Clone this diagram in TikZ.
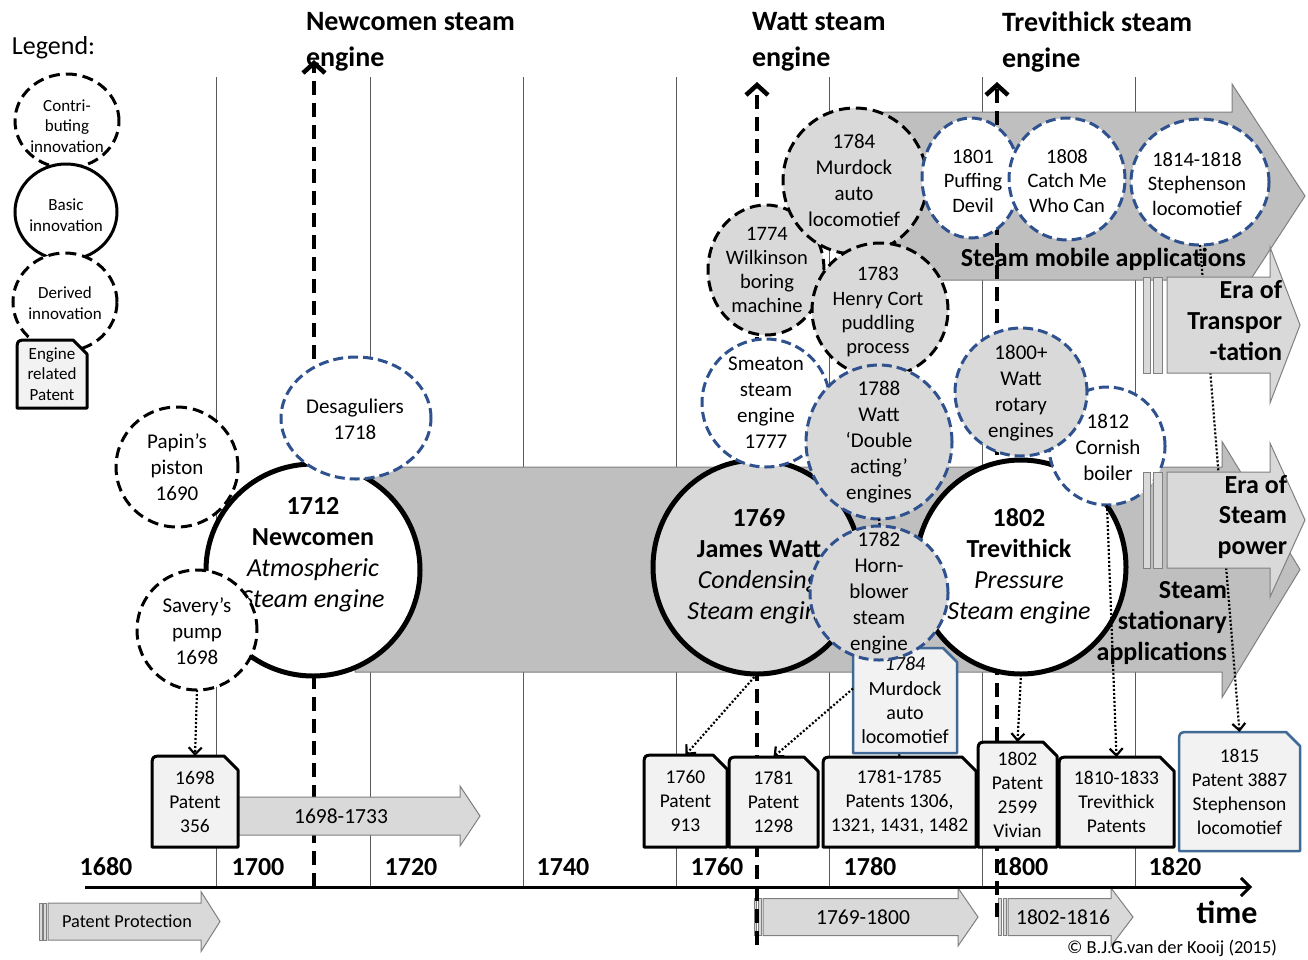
\documentclass[tikz,border=0pt]{standalone}
\usepackage{fontspec}
\setmainfont{Carlito}
\usetikzlibrary{arrows.meta,shapes.geometric}
\definecolor{dkgrey}{RGB}{191,191,191}
\definecolor{ltgrey}{RGB}{217,217,217}
\definecolor{boxfill}{RGB}{242,242,242}
\definecolor{dashblue}{RGB}{47,82,143}
\definecolor{boxblue}{RGB}{65,105,150}
\definecolor{gridc}{RGB}{90,90,90}
\definecolor{outl}{RGB}{128,128,128}
\newcommand\myfs[2]{\fontsize{#1}{#2}\selectfont}
% #1 style, #2 left x, #3 head x, #4 tip x, #5 centre y, #6 body half height, #7 head half height
\newcommand\arrowshape[7]{\draw[#1] (#2,#5-#6) -- (#3,#5-#6) -- (#3,#5-#7) -- (#4,#5) -- (#3,#5+#7) -- (#3,#5+#6) -- (#2,#5+#6) -- cycle;}
% #1 name, #2 L, #3 T, #4 R, #5 B, #6 shape style, #7 node style, #8 text
\newcommand\patent[8]{%
  \draw[pshape,#6] (#2,#5) -- (#2,#3+12) .. controls (#2,#3) .. (#2+12,#3) -- (#4-14,#3) -- (#4,#3+14) -- (#4,#5) -- cycle;
  \node[ptext,#7,minimum width={#4-#2},minimum height={#5-#3}] (#1) at ({(#2+#4)/2},{(#3+#5)/2}) {#8};}
\begin{document}
\begin{tikzpicture}[x=1pt,y=-1pt,
  every node/.style={inner sep=0pt,outer sep=0pt},
  gridline/.style={draw=gridc,line width=1pt},
  bigarrow/.style={fill=dkgrey,draw=outl,line width=1pt},
  smallarrow/.style={fill=ltgrey,draw=outl,line width=1pt},
  barstyle/.style={fill=ltgrey,draw=outl,line width=1pt},
  axisline/.style={line width=3pt,-{Straight Barb[length=9pt,width=18pt]}},
  engline/.style={line width=4.5pt,dash pattern=on 14pt off 8pt,-{Straight Barb[length=10pt,width=22pt]}},
  dotarrow/.style={line width=2.2pt,dash pattern=on 2pt off 2pt,-{Straight Barb[length=7pt,width=13pt]}},
  dotline/.style={line width=2.2pt,dash pattern=on 2pt off 2pt},
  cdash/.style={ellipse,draw=black,line width=3pt,dash pattern=on 11pt off 6pt},
  bdash/.style={ellipse,draw=dashblue,line width=3pt,dash pattern=on 10pt off 5pt},
  basic/.style={ellipse,draw=black,line width=5pt},
  ctext/.style={align=center,font=\myfs{21}{26}},
  ctexts/.style={align=center,font=\myfs{20.5}{24.3}},
  bigtext/.style={align=center,font=\myfs{26}{31}},
  ptext/.style={align=center,font=\myfs{19.5}{24}},
  pshape/.style={fill=boxfill,line join=round},
  legtext/.style={align=center,font=\myfs{17}{20.5}},
  arrowlabel/.style={align=right,font=\myfs{26}{31}\bfseries},
  yearlab/.style={font=\myfs{26}{30}\bfseries},
  periodlab/.style={font=\myfs{21.5}{26}},
  titlelab/.style={align=left,anchor=west,font=\myfs{28}{36}\bfseries}]
\useasboundingbox (0,0) rectangle (1308,959);
\fill[white] (0,0) rectangle (1308,959);
% grid
\foreach \gx in {216,370,523,676,829,982,1135} {\draw[gridline] (\gx,77) -- (\gx,887);}
% big era arrows
\arrowshape{bigarrow}{355}{1222}{1300}{569.5}{102.5}{128}
\arrowshape{bigarrow}{850}{1232}{1305}{196}{84}{112}
% patent period arrows
\draw[barstyle] (39,903) rectangle (42,940);
\draw[barstyle] (43.5,903) rectangle (46.5,940);
\arrowshape{smallarrow}{48}{201}{220}{921.5}{18.5}{30}
\node[font=\myfs{18.3}{22}] (pp) at (127,921.5) {Patent Protection};
\draw[barstyle] (754,898.5) rectangle (756,935.5);
\draw[barstyle] (758,898.5) rectangle (761,935.5);
\arrowshape{smallarrow}{763}{958}{978}{917}{18.5}{29}
\node[periodlab] (per1769) at (863,917) {1769-1800};
\draw[barstyle] (998,898.5) rectangle (1001,935.5);
\draw[barstyle] (1003,898.5) rectangle (1006,935.5);
\arrowshape{smallarrow}{1008}{1111}{1133}{917}{18.5}{29}
\node[periodlab] (per1802) at (1063,917) {1802-1816};
% time axis
\coordinate (ax0) at (85,887);
\coordinate (ax1) at (1252,887);
\draw[axisline] (ax0) -- (ax1);
\foreach \yr/\xx in {1680/106,1700/258,1720/411,1740/563,1760/717,1780/870,1800/1022,1820/1175}
  {\node[yearlab] (yr\yr) at (\xx,867) {\yr};}
\node[font=\myfs{32}{36}\bfseries] (timelab) at (1227,912) {time};
% engine lines
\coordinate (nbot) at (314,887); \coordinate (ntop) at (314,60);
\coordinate (wbot) at (757,945); \coordinate (wtop) at (757,82);
\coordinate (tbot) at (997,917); \coordinate (ttop) at (997,82);
\draw[engline] (nbot) -- (ntop);
\draw[engline] (wbot) -- (wtop);
\draw[engline] (tbot) -- (ttop);
% Savery patent period (lies over the Newcomen line)
\arrowshape{smallarrow}{238}{460}{480}{816}{19}{30}
\node[periodlab] (per1698) at (341,816) {1698-1733};
% patents
\patent{p1698}{152}{756}{238}{847}{draw=black,line width=3pt}{}{1698\\Patent\\356}
\patent{p1760}{644}{755}{727}{847}{draw=black,line width=3pt}{}{1760\\Patent\\913}
\patent{p1781}{729}{757}{818}{847}{draw=black,line width=3pt}{}{1781\\Patent\\1298}
\patent{p1781b}{823}{757}{976}{847}{draw=black,line width=3pt}{}{1781-1785\\Patents 1306,\\1321, 1431, 1482}
\patent{p1802}{978}{742}{1057}{847}{draw=black,line width=3pt}{}{1802\\Patent\\2599\\Vivian}
\patent{p1810}{1059}{757}{1174}{847}{draw=black,line width=3pt}{}{1810-1833\\Trevithick\\Patents}
\patent{p1815}{1179}{732}{1300}{851}{draw=boxblue,line width=2.5pt}{}{1815\\Patent 3887\\Stephenson\\locomotief}
% Newcomen group
\node[basic,fill=white,minimum width=214,minimum height=212] (newcomen) at (313,570) {};
\node[bigtext] (newcomen-t) at (313,555) {\textbf{1712}\\\textbf{Newcomen}\\\textit{Atmospheric}\\\textit{Steam engine}};
\node[cdash,fill=white,minimum width=122,minimum height=120] (papin) at (177,467) {};
\node[ctext] (papin-t) at (177,467) {Papin’s\\piston\\1690};
\node[cdash,fill=white,minimum width=120,minimum height=120] (savery) at (197,630) {};
\node[ctext] (savery-t) at (197,631) {Savery’s\\pump\\1698};
\node[bdash,fill=white,minimum width=150,minimum height=122] (desag) at (356,418) {};
\node[ctext] (desag-t) at (355,419) {Desaguliers\\1718};
% Watt and Trevithick
\node[basic,fill=ltgrey,minimum width=208,minimum height=214] (watt) at (757,567) {};
\node[bigtext] (watt-t) at (759,566) {\textbf{1769}\\\textbf{James Watt}\\\textit{Condensing}\\\textit{Steam engine}};
\node[basic,fill=white,minimum width=210,minimum height=214] (trev) at (1021,567) {};
\node[bigtext] (trev-t) at (1019,566) {\textbf{1802}\\\textbf{Trevithick}\\\textit{Pressure}\\\textit{Steam engine}};
% upper circles
\node[bdash,fill=white,minimum width=128,minimum height=128] (smeaton) at (766,403) {};
\node[ctext] (smeaton-t) at (766,403) {Smeaton\\steam\\engine\\1777};
\node[cdash,fill=ltgrey,minimum width=116,minimum height=130] (wilk) at (766,270) {};
\node[ctexts] (wilk-t) at (767,270) {1774\\Wilkinson\\boring\\machine};
\node[cdash,fill=ltgrey,minimum width=144,minimum height=146] (murdock) at (855,181) {};
\node[ctext] (murdock-t) at (854,180) {1784\\Murdock\\auto\\locomotief};
\node[cdash,fill=ltgrey,minimum width=136,minimum height=134] (cort) at (880,310) {};
\node[ctexts] (cort-t) at (878,312) {1783\\Henry Cort\\puddling\\process};
\node[bdash,fill=ltgrey,minimum width=146,minimum height=154] (d1788) at (879,442) {};
\node[ctext] (d1788-t) at (879,442) {1788\\Watt\\‘Double\\acting’\\engines};
\node[bdash,fill=white,minimum width=116,minimum height=118] (cornish) at (1107,446) {};
\node[ctext] (cornish-t) at (1108,447) {1812\\Cornish\\boiler};
\node[bdash,fill=ltgrey,minimum width=132,minimum height=128] (r1800) at (1021,392) {};
\node[ctext] (r1800-t) at (1021,393) {1800+\\Watt\\rotary\\engines};
\node[bdash,fill=white,minimum width=98,minimum height=120] (puff) at (971,178) {};
\node[ctexts] (puff-t) at (973,181) {1801\\Puffing\\Devil};
\node[bdash,fill=white,minimum width=116,minimum height=122] (catch) at (1067,179) {};
\node[ctexts] (catch-t) at (1067,181) {1808\\Catch Me\\Who Can};
\node[bdash,fill=white,minimum width=138,minimum height=126] (steph) at (1200,182) {};
\node[ctexts] (steph-t) at (1197,184) {1814-1818\\Stephenson\\locomotief};
% hidden link 1788 -> patents
\draw[dotline] (d1788.south) -- (p1781b.north);
% Murdock patent box and Hornblower
\patent{mbox}{853}{648}{957}{753}{draw=boxblue,line width=2.5pt}{font=\myfs{20}{24.3}}{\textit{1784}\\Murdock\\auto\\locomotief}
\node[bdash,fill=ltgrey,minimum width=138,minimum height=134] (horn) at (879,593) {};
\node[ctext] (horn-t) at (879,593) {1782\\Horn-\\blower\\steam\\engine};
% dotted patent links
\draw[dotarrow] (savery.south) -- (p1698.north);
\draw[dotarrow] (watt.south) -- (p1760.north);
\draw[dotarrow] ([yshift=12pt]mbox.west) -- (p1781.north);
\draw[dotarrow] (trev.south) -- (p1802.north);
\draw[dotarrow] (cornish.south) -- (p1810.north);
\draw[dotarrow] (steph.south) -- (p1815.north);
% era arrows
\draw[barstyle] (1143,277) rectangle (1150,373);
\draw[barstyle] (1153,277) rectangle (1162,373);
\arrowshape{smallarrow}{1167}{1270}{1300}{325}{48}{78}
\draw[barstyle] (1143,472) rectangle (1150,568);
\draw[barstyle] (1153,472) rectangle (1162,568);
\arrowshape{smallarrow}{1167}{1270}{1305}{520}{48}{77}
% arrow labels
\node[arrowlabel,anchor=east] (mobile-t) at (1246,259) {Steam mobile applications};
\node[arrowlabel,anchor=east] (stat-t) at (1227,623) {Steam\\stationary\\applications};
\node[arrowlabel,anchor=east] (eratr-t) at (1282,321) {Era of\\Transpor\\-tation};
\node[arrowlabel,anchor=east] (erast-t) at (1287,517) {Era of\\Steam\\power};
% titles
\node[titlelab] (tNewcomen) at (306,42) {Newcomen steam\\engine};
\node[titlelab] (tWatt) at (752,42) {Watt steam\\engine};
\node[titlelab] (tTrev) at (1002,42) {Trevithick steam\\engine};
% legend
\node[font=\myfs{26}{30},anchor=west] (legend) at (12,48) {Legend:};
\node[cdash,fill=white,minimum width=104,minimum height=94] (lc) at (67,121) {};
\node[legtext] (lc-t) at (67,126) {Contri-\\buting\\innovation};
\node[basic,line width=3pt,fill=white,minimum width=102,minimum height=96] (lb) at (66,212) {};
\node[legtext] (lb-t) at (66,215) {Basic\\innovation};
\node[cdash,fill=white,minimum width=104,minimum height=98] (ld) at (65,302) {};
\node[legtext] (ld-t) at (65,303) {Derived\\innovation};
\patent{legbox}{17}{340}{87}{408}{draw=black,line width=3pt}{legtext}{Engine\\related\\Patent}
% copyright
\node[font=\myfs{18.4}{21},anchor=east] (copy) at (1277,948) {© B.J.G.van der Kooij (2015)};
\end{tikzpicture}
\end{document}
